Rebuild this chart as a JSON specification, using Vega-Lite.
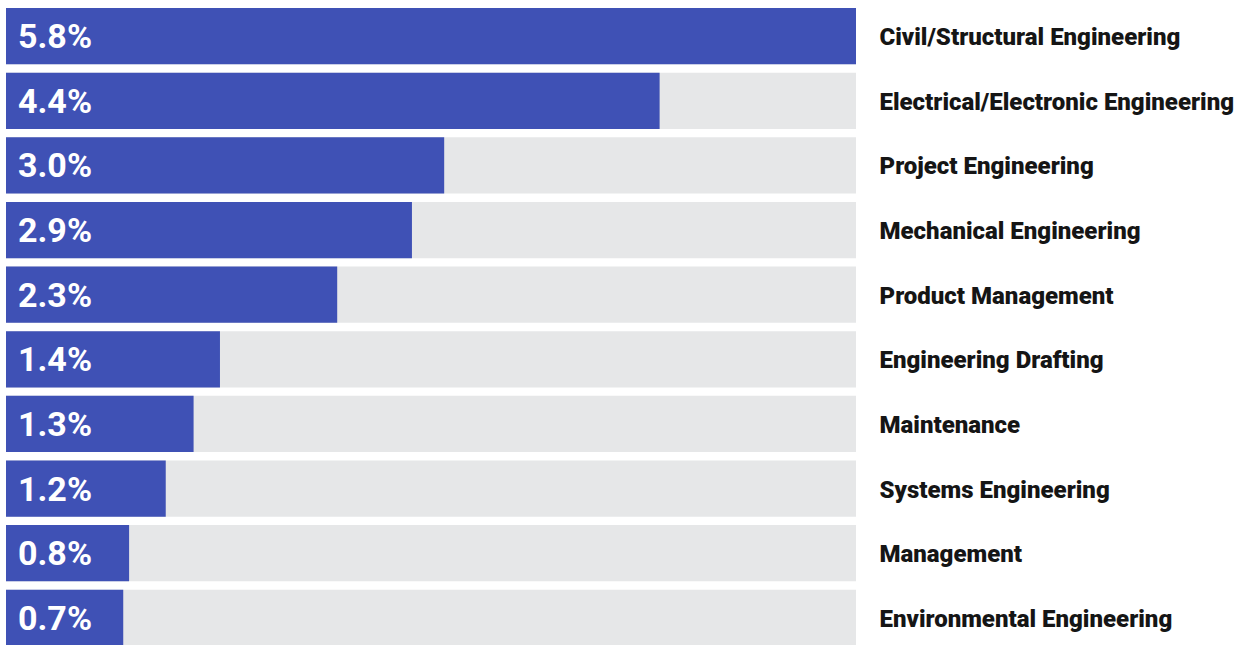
{
  "$schema": "https://vega.github.io/schema/vega-lite/v6.json",
  "autosize": "none",
  "width": 850,
  "height": 638,
  "padding": {"left": 6, "top": 8, "right": 389, "bottom": 0},
  "background": "white",
  "config": {"view": {"stroke": null}},
  "data": {
    "values": [
      {"field": "Civil/Structural Engineering", "label": "5.8%", "length": 5.8},
      {"field": "Electrical/Electronic Engineering", "label": "4.4%", "length": 4.46},
      {"field": "Project Engineering", "label": "3.0%", "length": 2.99},
      {"field": "Mechanical Engineering", "label": "2.9%", "length": 2.77},
      {"field": "Product Management", "label": "2.3%", "length": 2.26},
      {"field": "Engineering Drafting", "label": "1.4%", "length": 1.46},
      {"field": "Maintenance", "label": "1.3%", "length": 1.28},
      {"field": "Systems Engineering", "label": "1.2%", "length": 1.09},
      {"field": "Management", "label": "0.8%", "length": 0.84},
      {"field": "Environmental Engineering", "label": "0.7%", "length": 0.8}
    ]
  },
  "encoding": {
    "y": {
      "field": "field",
      "type": "nominal",
      "sort": null,
      "scale": {"paddingInner": 0.13, "paddingOuter": 0},
      "axis": {
        "orient": "right",
        "title": null,
        "ticks": false,
        "domain": false,
        "labelPadding": 23,
        "labelOffset": 2,
        "labelFont": "Roboto",
        "labelFontWeight": 900,
        "labelFontSize": 24,
        "labelColor": "#151515",
        "labelLimit": 400
      }
    }
  },
  "layer": [
    {
      "mark": {"type": "bar", "color": "#e6e7e8"},
      "encoding": {
        "x": {"datum": 5.8, "type": "quantitative", "scale": {"domain": [0, 5.8], "nice": false, "zero": true}, "axis": null}
      }
    },
    {
      "mark": {"type": "bar", "color": "#3f51b5"},
      "encoding": {
        "x": {"field": "length", "type": "quantitative", "scale": {"domain": [0, 5.8], "nice": false}, "axis": null}
      }
    },
    {
      "mark": {"type": "text", "align": "left", "baseline": "middle", "dx": 12, "dy": 2, "font": "Roboto", "fontWeight": "bold", "fontSize": 34, "color": "white"},
      "encoding": {
        "x": {"datum": 0, "type": "quantitative"},
        "text": {"field": "label", "type": "nominal"}
      }
    }
  ]
}
